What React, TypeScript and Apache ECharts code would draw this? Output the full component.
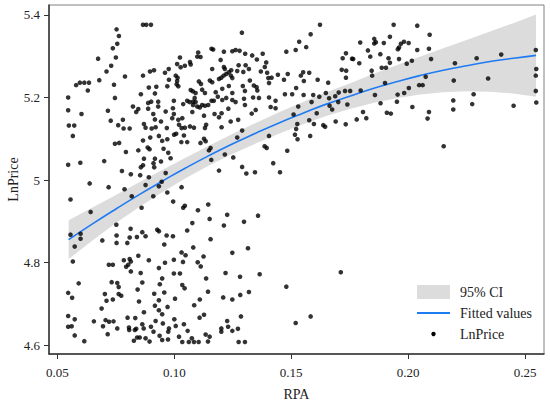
import React, { useEffect, useRef } from "react";
import * as echarts from "echarts";

// Observations: [RPA, LnPrice]
const observations: [number, number][] = [
  [0.0753,5.365],[0.0763,5.349],[0.0756,5.330],[0.0737,5.319],[0.0750,5.297],[0.0674,5.294],[0.0730,5.277],[0.0710,5.263],[0.0789,5.251],[0.0679,5.242],[0.0742,5.231],[0.0580,5.230],[0.0596,5.236],[0.0615,5.236],[0.0635,5.236],[0.0630,5.217],[0.0866,5.376],[0.0880,5.376],[0.0900,5.376],[0.0866,5.253],[0.0896,5.263],[0.0913,5.266],[0.0960,5.260],[0.0976,5.269],[0.0891,5.224],[0.0923,5.226],[0.0970,5.227],[0.0917,5.210],[0.0857,5.208],
  [0.1289,5.357],[0.1159,5.318],[0.1166,5.316],[0.1212,5.311],[0.1248,5.312],[0.1262,5.315],[0.1279,5.313],[0.1303,5.306],[0.1333,5.302],[0.1353,5.292],[0.1378,5.306],[0.1102,5.309],[0.1098,5.299],[0.1112,5.298],[0.1024,5.297],[0.1198,5.291],[0.1067,5.286],[0.1070,5.280],[0.1045,5.277],[0.1012,5.281],[0.1027,5.273],[0.1162,5.269],[0.1212,5.274],[0.1216,5.269],[0.1275,5.278],[0.1305,5.278],[0.1393,5.285],[0.1387,5.274],[0.1243,5.266],[0.1233,5.261],[0.1222,5.257],[0.1211,5.253],[0.1201,5.248],[0.1191,5.245],[0.1269,5.264],[0.1295,5.262],[0.1319,5.269],[0.1370,5.263],[0.1397,5.260],[0.1416,5.248],[0.1402,5.247],[0.1443,5.255],[0.1479,5.311],[0.1485,5.257],[0.1469,5.243],[0.1405,5.235],[0.1006,5.253],[0.1014,5.248],[0.1012,5.240],[0.1010,5.232],[0.1017,5.227],[0.0977,5.243],[0.1105,5.239],[0.1114,5.233],[0.1152,5.241],[0.1162,5.237],[0.1242,5.253],[0.1248,5.247],[0.1323,5.241],[0.1293,5.228],[0.1340,5.229],[0.1352,5.225],[0.1233,5.228],[0.1070,5.218],[0.1079,5.215],[0.1091,5.211],[0.1119,5.219],[0.1131,5.211],[0.1177,5.213],[0.1205,5.221],[0.1248,5.211],[0.1302,5.216],[0.1355,5.217],
  [0.0546,5.200],[0.0746,5.199],[0.0546,5.169],[0.0603,5.160],[0.0716,5.168],[0.0549,5.132],[0.0572,5.132],[0.0566,5.107],[0.0728,5.144],[0.0760,5.133],[0.0780,5.146],[0.0783,5.125],[0.0809,5.125],[0.0823,5.178],[0.0837,5.165],[0.0846,5.172],[0.0888,5.187],[0.0901,5.190],[0.0931,5.190],[0.0888,5.173],[0.0931,5.178],[0.0963,5.166],[0.0910,5.160],[0.0917,5.147],[0.0870,5.136],[0.0877,5.127],[0.0903,5.125],[0.0920,5.128],[0.0943,5.142],[0.0968,5.126],[0.0897,5.103],[0.0866,5.096],[0.0934,5.107],[0.0948,5.095],[0.0970,5.099],[0.0746,5.088],[0.0764,5.090],[0.0793,5.068],[0.0846,5.072],[0.0886,5.079],[0.0894,5.075],[0.0954,5.076],[0.0974,5.066],[0.0870,5.052],[0.0917,5.052],[0.0911,5.041],[0.0943,5.045],[0.0866,5.036],[0.0857,5.031],[0.0914,5.031],[0.0546,5.037],[0.0598,5.042],[0.0700,5.046],[0.0776,5.022],[0.0814,5.014],[0.0854,5.012],[0.0891,5.007],[0.0638,4.992],[0.0963,5.017],
  [0.0998,5.192],[0.0994,5.174],[0.0998,5.160],[0.0991,5.150],[0.1038,5.184],[0.1055,5.192],[0.1065,5.189],[0.1080,5.190],[0.1087,5.199],[0.1080,5.182],[0.1091,5.189],[0.1098,5.178],[0.1109,5.176],[0.1119,5.182],[0.1131,5.180],[0.1145,5.182],[0.1159,5.192],[0.1169,5.192],[0.1186,5.202],[0.1205,5.194],[0.1222,5.199],[0.1248,5.194],[0.1262,5.189],[0.1298,5.197],[0.1302,5.182],[0.1337,5.200],[0.1362,5.199],[0.1405,5.200],[0.1433,5.192],[0.1231,5.173],[0.1348,5.170],[0.1331,5.161],[0.1412,5.177],[0.1433,5.174],[0.1034,5.150],[0.1045,5.127],[0.1017,5.146],[0.1020,5.134],[0.1031,5.126],[0.1077,5.165],[0.1127,5.156],[0.1172,5.160],[0.1202,5.162],[0.1191,5.152],[0.1067,5.130],[0.1084,5.127],[0.1136,5.134],[0.1131,5.126],[0.1202,5.128],[0.1241,5.142],[0.1273,5.146],[0.0999,5.110],[0.1008,5.112],[0.1041,5.108],[0.1030,5.092],[0.1055,5.092],[0.1112,5.090],[0.1127,5.100],[0.1134,5.094],[0.1269,5.103],[0.1290,5.120],[0.1405,5.107],[0.0984,5.053],[0.1155,5.078],[0.1148,5.072],[0.1216,5.062],[0.1158,5.049],[0.1252,5.055],[0.1386,5.082],[0.1395,5.078],[0.1483,5.071],[0.1423,5.041],[0.1290,5.032],[0.1308,5.016],[0.1345,5.019],[0.1191,5.023],[0.1452,5.019],
  [0.0719,4.983],[0.0787,4.978],[0.0877,4.988],[0.0934,4.985],[0.0946,4.996],[0.0970,4.970],[0.0910,4.961],[0.0818,4.961],[0.0556,4.953],[0.0642,4.923],[0.0860,4.933],[0.0752,4.892],[0.0556,4.868],[0.0599,4.870],[0.0599,4.858],[0.0574,4.839],[0.0692,4.854],[0.0753,4.866],[0.0753,4.848],[0.0813,4.882],[0.0809,4.861],[0.0799,4.848],[0.0840,4.862],[0.0863,4.874],[0.0877,4.864],[0.0927,4.880],[0.0934,4.876],[0.0967,4.866],[0.0957,4.844],[0.0566,4.803],[0.0720,4.795],[0.0737,4.795],[0.0784,4.806],[0.0809,4.809],[0.0814,4.803],[0.0803,4.795],[0.0794,4.790],[0.0846,4.817],[0.0891,4.806],[0.0960,4.800],[0.0934,4.787],
  [0.1031,4.983],[0.0995,4.948],[0.1038,4.933],[0.1045,4.938],[0.1101,4.927],[0.1145,4.941],[0.1226,4.916],[0.1358,4.914],[0.1151,4.906],[0.1298,4.899],[0.1212,4.890],[0.1077,4.896],[0.1055,4.878],[0.0994,4.864],[0.1155,4.857],[0.1081,4.837],[0.1315,4.835],[0.1248,4.824],[0.1031,4.825],[0.1048,4.818],[0.1125,4.815],[0.0998,4.807],[0.1037,4.802],[0.1100,4.801],[0.1113,4.791],
  [0.0814,4.779],[0.0856,4.775],[0.0591,4.750],[0.0732,4.753],[0.0756,4.751],[0.0762,4.741],[0.0863,4.752],[0.0948,4.762],[0.0938,4.748],[0.0546,4.727],[0.0563,4.715],[0.0703,4.724],[0.0710,4.708],[0.0737,4.711],[0.0762,4.724],[0.0773,4.720],[0.0843,4.735],[0.0914,4.725],[0.0957,4.728],[0.0849,4.706],[0.0934,4.709],[0.0689,4.689],[0.0917,4.696],[0.0934,4.685],[0.0948,4.675],[0.0971,4.693],[0.0870,4.680],[0.0546,4.671],[0.0574,4.663],[0.0656,4.658],[0.0706,4.661],[0.0721,4.657],[0.0740,4.658],[0.0800,4.667],[0.0833,4.666],[0.0920,4.659],[0.0546,4.645],[0.0561,4.646],[0.0695,4.646],[0.0756,4.641],[0.0806,4.643],[0.0807,4.637],[0.0831,4.637],[0.0837,4.640],[0.0863,4.651],[0.0869,4.641],[0.0900,4.645],[0.0911,4.633],[0.0951,4.653],[0.0977,4.641],[0.0974,4.633],[0.0574,4.624],[0.0715,4.627],[0.0615,4.610],[0.0841,4.619],[0.0852,4.619],[0.0877,4.617],[0.0894,4.609],[0.0827,4.611],[0.0937,4.623],[0.0948,4.613],[0.0973,4.614],
  [0.0998,4.774],[0.1024,4.774],[0.1136,4.762],[0.1219,4.775],[0.1281,4.766],[0.1365,4.772],[0.1479,4.742],[0.1034,4.746],[0.1044,4.738],[0.1144,4.730],[0.1319,4.729],[0.1282,4.722],[0.1209,4.716],[0.1248,4.711],[0.1003,4.713],[0.1109,4.711],[0.1085,4.697],[0.1000,4.663],[0.1108,4.667],[0.1127,4.674],[0.1285,4.670],[0.1226,4.659],[0.1230,4.645],[0.1006,4.647],[0.1041,4.651],[0.1057,4.635],[0.1201,4.641],[0.1201,4.633],[0.1248,4.635],[0.1272,4.640],[0.1020,4.621],[0.1075,4.617],[0.1134,4.626],[0.1151,4.621],[0.1034,4.608],[0.1062,4.608],[0.1084,4.608],[0.1104,4.608],[0.1144,4.609],[0.1275,4.608],[0.1302,4.608],
  [0.1623,5.376],[0.1583,5.353],[0.1534,5.335],[0.1564,5.322],[0.1519,5.315],[0.1541,5.253],[0.1551,5.261],[0.1554,5.240],[0.1577,5.260],[0.1521,5.223],[0.1473,5.208],[0.1504,5.208],[0.1553,5.206],[0.1594,5.206],[0.1613,5.243],[0.1620,5.202],[0.1587,5.189],[0.1530,5.178],[0.1510,5.159],[0.1526,5.136],[0.1521,5.124],[0.1516,5.110],[0.1527,5.099],[0.1577,5.145],[0.1597,5.136],[0.1581,5.107],[0.1609,5.162],[0.1637,5.133],[0.1645,5.129],[0.1648,5.211],[0.1658,5.236],[0.1662,5.198],[0.1664,5.180],[0.1675,5.171],[0.1690,5.142],[0.1688,5.203],[0.1703,5.212],[0.1701,5.189],[0.1716,5.267],[0.1735,5.265],[0.1734,5.248],[0.1720,5.295],[0.1734,5.307],[0.1760,5.294],[0.1765,5.293],[0.1730,5.216],[0.1752,5.216],[0.1740,5.183],[0.1733,5.135],[0.1780,5.147],[0.1797,5.217],[0.1791,5.283],[0.1795,5.333],[0.1807,5.165],[0.1821,5.150],[0.1828,5.314],[0.1838,5.299],[0.1855,5.342],[0.1855,5.331],[0.1862,5.334],[0.1858,5.206],[0.1846,5.253],[0.1844,5.265],[0.1881,5.305],[0.1882,5.186],[0.1887,5.272],[0.1905,5.272],[0.1896,5.332],[0.1901,5.235],[0.1909,5.163],[0.1922,5.347],[0.1922,5.284],[0.1916,5.295],[0.1926,5.161],[0.1938,5.376],[0.1952,5.190],[0.1955,5.207],[0.1961,5.321],[0.1956,5.317],[0.1961,5.293],[0.1969,5.330],[0.1982,5.335],[0.1983,5.211],[0.1994,5.282],[0.2002,5.332],[0.2003,5.223],[0.2016,5.289],[0.2018,5.177],[0.2039,5.374],[0.2039,5.315],[0.2047,5.230],[0.2062,5.230],[0.2075,5.250],[0.2083,5.149],[0.2089,5.165],[0.2089,5.318],[0.2092,5.352],[0.2098,5.293],[0.2152,5.082],[0.2195,5.241],[0.2200,5.283],[0.2193,5.193],[0.2193,5.171],[0.2274,5.184],[0.2280,5.208],[0.2293,5.295],[0.2342,5.246],[0.2398,5.304],[0.2451,5.180],[0.2546,5.315],[0.2548,5.269],[0.2546,5.253],[0.2546,5.216],[0.2548,5.188],[0.1519,4.654],[0.1583,4.670],[0.1712,4.777],
];

// Quadratic fit and 95% CI
const fitX = [0.0548, 0.065, 0.075, 0.085, 0.095, 0.105, 0.115, 0.125, 0.135, 0.145, 0.155, 0.165, 0.175, 0.185, 0.195, 0.205, 0.215, 0.225, 0.235, 0.245, 0.2547];
const fitted = [4.856, 4.894, 4.930, 4.965, 4.998, 5.030, 5.060, 5.088, 5.114, 5.139, 5.162, 5.184, 5.203, 5.222, 5.238, 5.253, 5.266, 5.277, 5.287, 5.295, 5.302];
const ciLower = [4.809, 4.854, 4.896, 4.935, 4.971, 5.005, 5.036, 5.064, 5.089, 5.113, 5.135, 5.155, 5.172, 5.187, 5.198, 5.207, 5.213, 5.215, 5.214, 5.210, 5.202];
const ciUpper = [4.903, 4.934, 4.964, 4.995, 5.025, 5.055, 5.084, 5.112, 5.139, 5.165, 5.189, 5.213, 5.234, 5.257, 5.278, 5.299, 5.319, 5.339, 5.360, 5.380, 5.401];

const xTicks = [0.05, 0.1, 0.15, 0.2, 0.25];
const yTicks = [4.6, 4.8, 5.0, 5.2, 5.4];
const legendLabels = ["95% CI", "Fitted values", "LnPrice"];

const FONT = "'Liberation Serif', 'Times New Roman', serif";
const BLUE = "#1f7bf2";
const GRAY = "#dcdcdc";

export default function App() {
  const ref = useRef<HTMLDivElement>(null);
  useEffect(() => {
    document.body.style.margin = "0";
    if (!ref.current) return;
    const chart = echarts.init(ref.current, undefined, { renderer: "svg" });
    chart.setOption({
      animation: false,
      backgroundColor: "#ffffff",
      grid: {
        left: 49, right: 6, top: 5, bottom: 49,
        show: true, borderColor: "#808080", borderWidth: 1,
        containLabel: false, outerBoundsMode: "none",
      },
      xAxis: {
        type: "value", min: 0.0464, max: 0.2581,
        name: "RPA", nameLocation: "middle", nameGap: 33, nameMoveOverlap: false,
        nameTextStyle: { fontFamily: FONT, fontSize: 14, color: "#222" },
        axisLine: { show: true, onZero: false, lineStyle: { color: "#333", width: 1.5 } },
        axisTick: { show: true, length: 5, customValues: xTicks, lineStyle: { color: "#333" } },
        axisLabel: { customValues: xTicks, formatter: (v: number) => v.toFixed(2), fontFamily: FONT, fontSize: 13, color: "#222", margin: 12 },
        splitLine: { show: false },
      },
      yAxis: {
        type: "value", min: 4.579, max: 5.424,
        name: "LnPrice", nameLocation: "middle", nameGap: 29, nameMoveOverlap: false,
        nameTextStyle: { fontFamily: FONT, fontSize: 14, color: "#222" },
        axisLine: { show: true, onZero: false, lineStyle: { color: "#333", width: 1.5 } },
        axisTick: { show: true, length: 5, customValues: yTicks, lineStyle: { color: "#333" } },
        axisLabel: { customValues: yTicks, formatter: (v: number) => String(Math.round(v * 10) / 10), fontFamily: FONT, fontSize: 13, color: "#222", margin: 9 },
        splitLine: { show: false },
      },
      series: [
        {
          name: legendLabels[0], type: "custom", silent: true, z: 1,
          data: [0],
          renderItem: (_params: any, api: any) => {
            const upper = fitX.map((x, i) => api.coord([x, ciUpper[i]]));
            const lower = fitX.map((x, i) => api.coord([x, ciLower[i]])).reverse();
            return {
              type: "polygon",
              shape: { points: upper.concat(lower) },
              style: { fill: GRAY, stroke: "none" },
            };
          },
        },
        {
          name: legendLabels[1], type: "line", smooth: true, symbol: "none", silent: true,
          data: fitX.map((x, i) => [x, fitted[i]]),
          lineStyle: { color: BLUE, width: 1.6 }, z: 2,
        },
        {
          name: legendLabels[2], type: "scatter", symbolSize: 4.6, silent: true,
          data: observations,
          itemStyle: { color: "#000" }, z: 3,
        },
      ],
      graphic: [
        { type: "rect", shape: { x: 417, y: 285, width: 33, height: 14 }, style: { fill: GRAY } },
        { type: "line", shape: { x1: 417, y1: 313, x2: 450, y2: 313 }, style: { stroke: BLUE, lineWidth: 2 } },
        { type: "circle", shape: { cx: 433.5, cy: 334, r: 2.2 }, style: { fill: "#000" } },
        { type: "text", x: 460, y: 292, style: { text: legendLabels[0], font: `14px ${FONT}`, fill: "#222", verticalAlign: "middle" } },
        { type: "text", x: 460, y: 313, style: { text: legendLabels[1], font: `14px ${FONT}`, fill: "#222", verticalAlign: "middle" } },
        { type: "text", x: 460, y: 334, style: { text: legendLabels[2], font: `14px ${FONT}`, fill: "#222", verticalAlign: "middle" } },
      ],
    });
    return () => chart.dispose();
  }, []);
  return <div ref={ref} style={{ width: 550, height: 403 }} />;
}
